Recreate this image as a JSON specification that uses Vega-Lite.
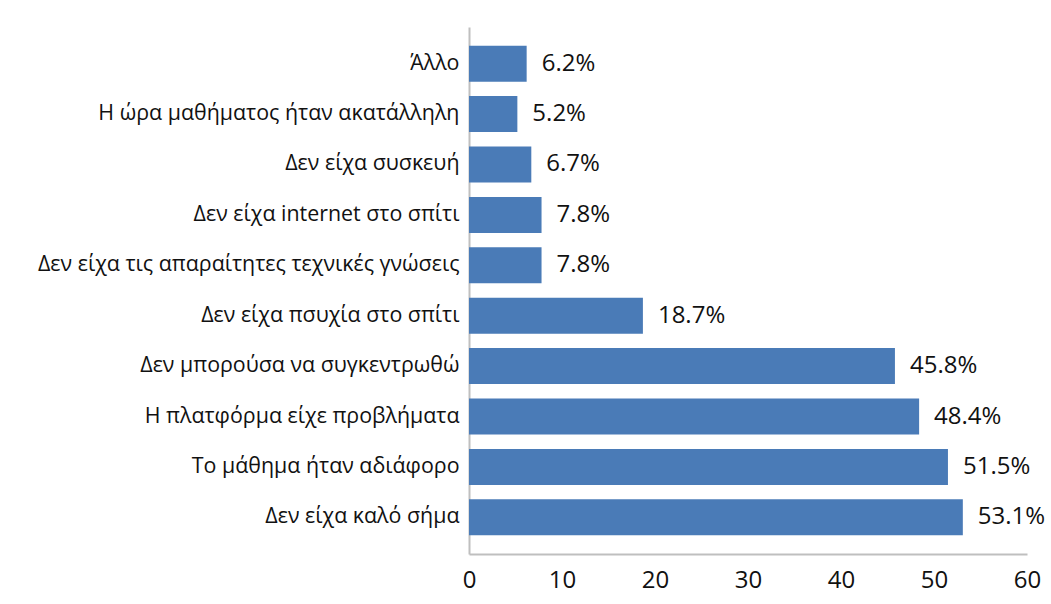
{
  "$schema": "https://vega.github.io/schema/vega-lite/v6.json",
  "autosize": {"type": "none"},
  "padding": {"left": 469, "top": 27, "right": 24, "bottom": 50},
  "width": 558,
  "height": 527,
  "background": "white",
  "data": {
    "values": [
      {"reason": "Άλλο", "pct": 6.2},
      {"reason": "Η ώρα μαθήματος ήταν ακατάλληλη", "pct": 5.2},
      {"reason": "Δεν είχα συσκευή", "pct": 6.7},
      {"reason": "Δεν είχα internet στο σπίτι", "pct": 7.8},
      {"reason": "Δεν είχα τις απαραίτητες τεχνικές γνώσεις", "pct": 7.8},
      {"reason": "Δεν είχα πσυχία στο σπίτι", "pct": 18.7},
      {"reason": "Δεν μπορούσα να συγκεντρωθώ", "pct": 45.8},
      {"reason": "Η πλατφόρμα είχε προβλήματα", "pct": 48.4},
      {"reason": "Το μάθημα ήταν αδιάφορο", "pct": 51.5},
      {"reason": "Δεν είχα καλό σήμα", "pct": 53.1}
    ]
  },
  "encoding": {
    "y": {
      "field": "reason",
      "type": "nominal",
      "sort": null,
      "scale": {"paddingInner": 0.286, "paddingOuter": 0.37},
      "axis": {
        "title": null,
        "ticks": false,
        "domainColor": "#bfbfbf",
        "domainWidth": 2,
        "labelFont": "Open Sans",
        "labelFontSize": 21.4,
        "labelColor": "#111111",
        "labelPadding": 10,
        "labelLimit": 468
      }
    },
    "x": {
      "field": "pct",
      "type": "quantitative",
      "scale": {"domain": [0, 60], "nice": false},
      "axis": {
        "title": null,
        "values": [0, 10, 20, 30, 40, 50, 60],
        "grid": false,
        "ticks": false,
        "domainColor": "#bfbfbf",
        "domainWidth": 2,
        "labelFont": "Open Sans",
        "labelFontSize": 24,
        "labelColor": "#111111",
        "labelPadding": 14,
        "labelFlush": false
      }
    }
  },
  "layer": [
    {"mark": {"type": "bar", "color": "#4a7bb7"}},
    {
      "transform": [{"calculate": "format(datum.pct, '.1f') + '%'", "as": "label"}],
      "mark": {"type": "text", "align": "left", "baseline": "middle", "dx": 15, "font": "Open Sans", "fontSize": 24, "color": "#111111"},
      "encoding": {"text": {"field": "label", "type": "nominal"}}
    }
  ],
  "config": {"view": {"stroke": null}}
}
